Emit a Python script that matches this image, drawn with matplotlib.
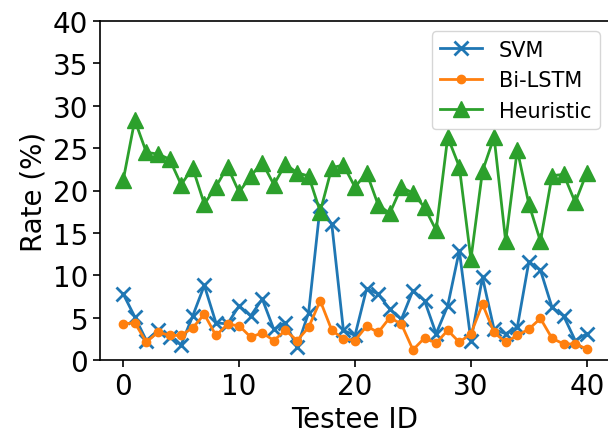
import numpy as np
from matplotlib import pyplot as plt

testee = np.arange(41)
svm = [7.8, 5.1, 2.3, 3.5, 2.7, 1.8, 5.2, 8.8, 4.4, 4.25, 6.4, 5.2, 7.2, 3.6, 4.4, 1.5,
       5.6, 18.2, 16.0, 3.5, 2.9, 8.4, 7.8, 6.0, 4.8, 8.2, 7.0, 3.1, 6.4, 12.9, 2.3,
       9.75, 3.6, 3.1, 3.85, 11.6, 10.6, 6.2, 5.2, 2.3, 3.1]
bilstm = [4.25, 4.4, 2.1, 3.3, 2.9, 2.9, 3.8, 5.4, 2.9, 4.2, 4.05, 2.7, 3.2, 2.3, 3.5, 2.3,
          3.85, 7.0, 3.5, 2.5, 2.3, 4.0, 3.25, 5.0, 4.25, 1.2, 2.6, 2.0, 3.5, 2.1, 3.1,
          6.6, 3.25, 2.1, 2.9, 3.65, 4.9, 2.55, 1.9, 1.9, 1.3]
heuristic = [21.2, 28.3, 24.5, 24.3, 23.7, 20.7, 22.65, 18.4, 20.45, 22.8, 19.8, 21.7, 23.3,
             20.7, 23.1, 22.1, 21.7, 17.5, 22.7, 23.0, 20.4, 22.1, 18.3, 17.3, 20.4, 19.7,
             18.0, 15.3, 26.3, 22.8, 11.9, 22.3, 26.3, 14.0, 24.8, 18.4, 14.0, 21.75, 21.9,
             18.6, 22.1]

fig = plt.figure(figsize=(6.08, 4.39), dpi=100)
ax = fig.add_axes([100 / 608, 78 / 439, 510 / 608, 339 / 439])

ax.plot(testee, svm, marker='x', markersize=10, markeredgewidth=2, linewidth=2, label='SVM')
ax.plot(testee, bilstm, marker='o', markersize=6, linewidth=2, label='Bi-LSTM')
ax.plot(testee, heuristic, marker='^', markersize=11, linewidth=2, label='Heuristic')

ax.set_ylim(0, 40)
ax.set_xticks([0, 10, 20, 30, 40])
ax.set_yticks(range(0, 41, 5))
ax.tick_params(labelsize=20, width=1.2, length=5)
ax.set_xlabel('Testee ID', fontsize=20)
ax.set_ylabel('Rate (%)', fontsize=20)
for s in ax.spines.values():
    s.set_linewidth(1.2)
ax.legend(loc='upper right', fontsize=15)

fig.savefig('out.png', dpi=100)
